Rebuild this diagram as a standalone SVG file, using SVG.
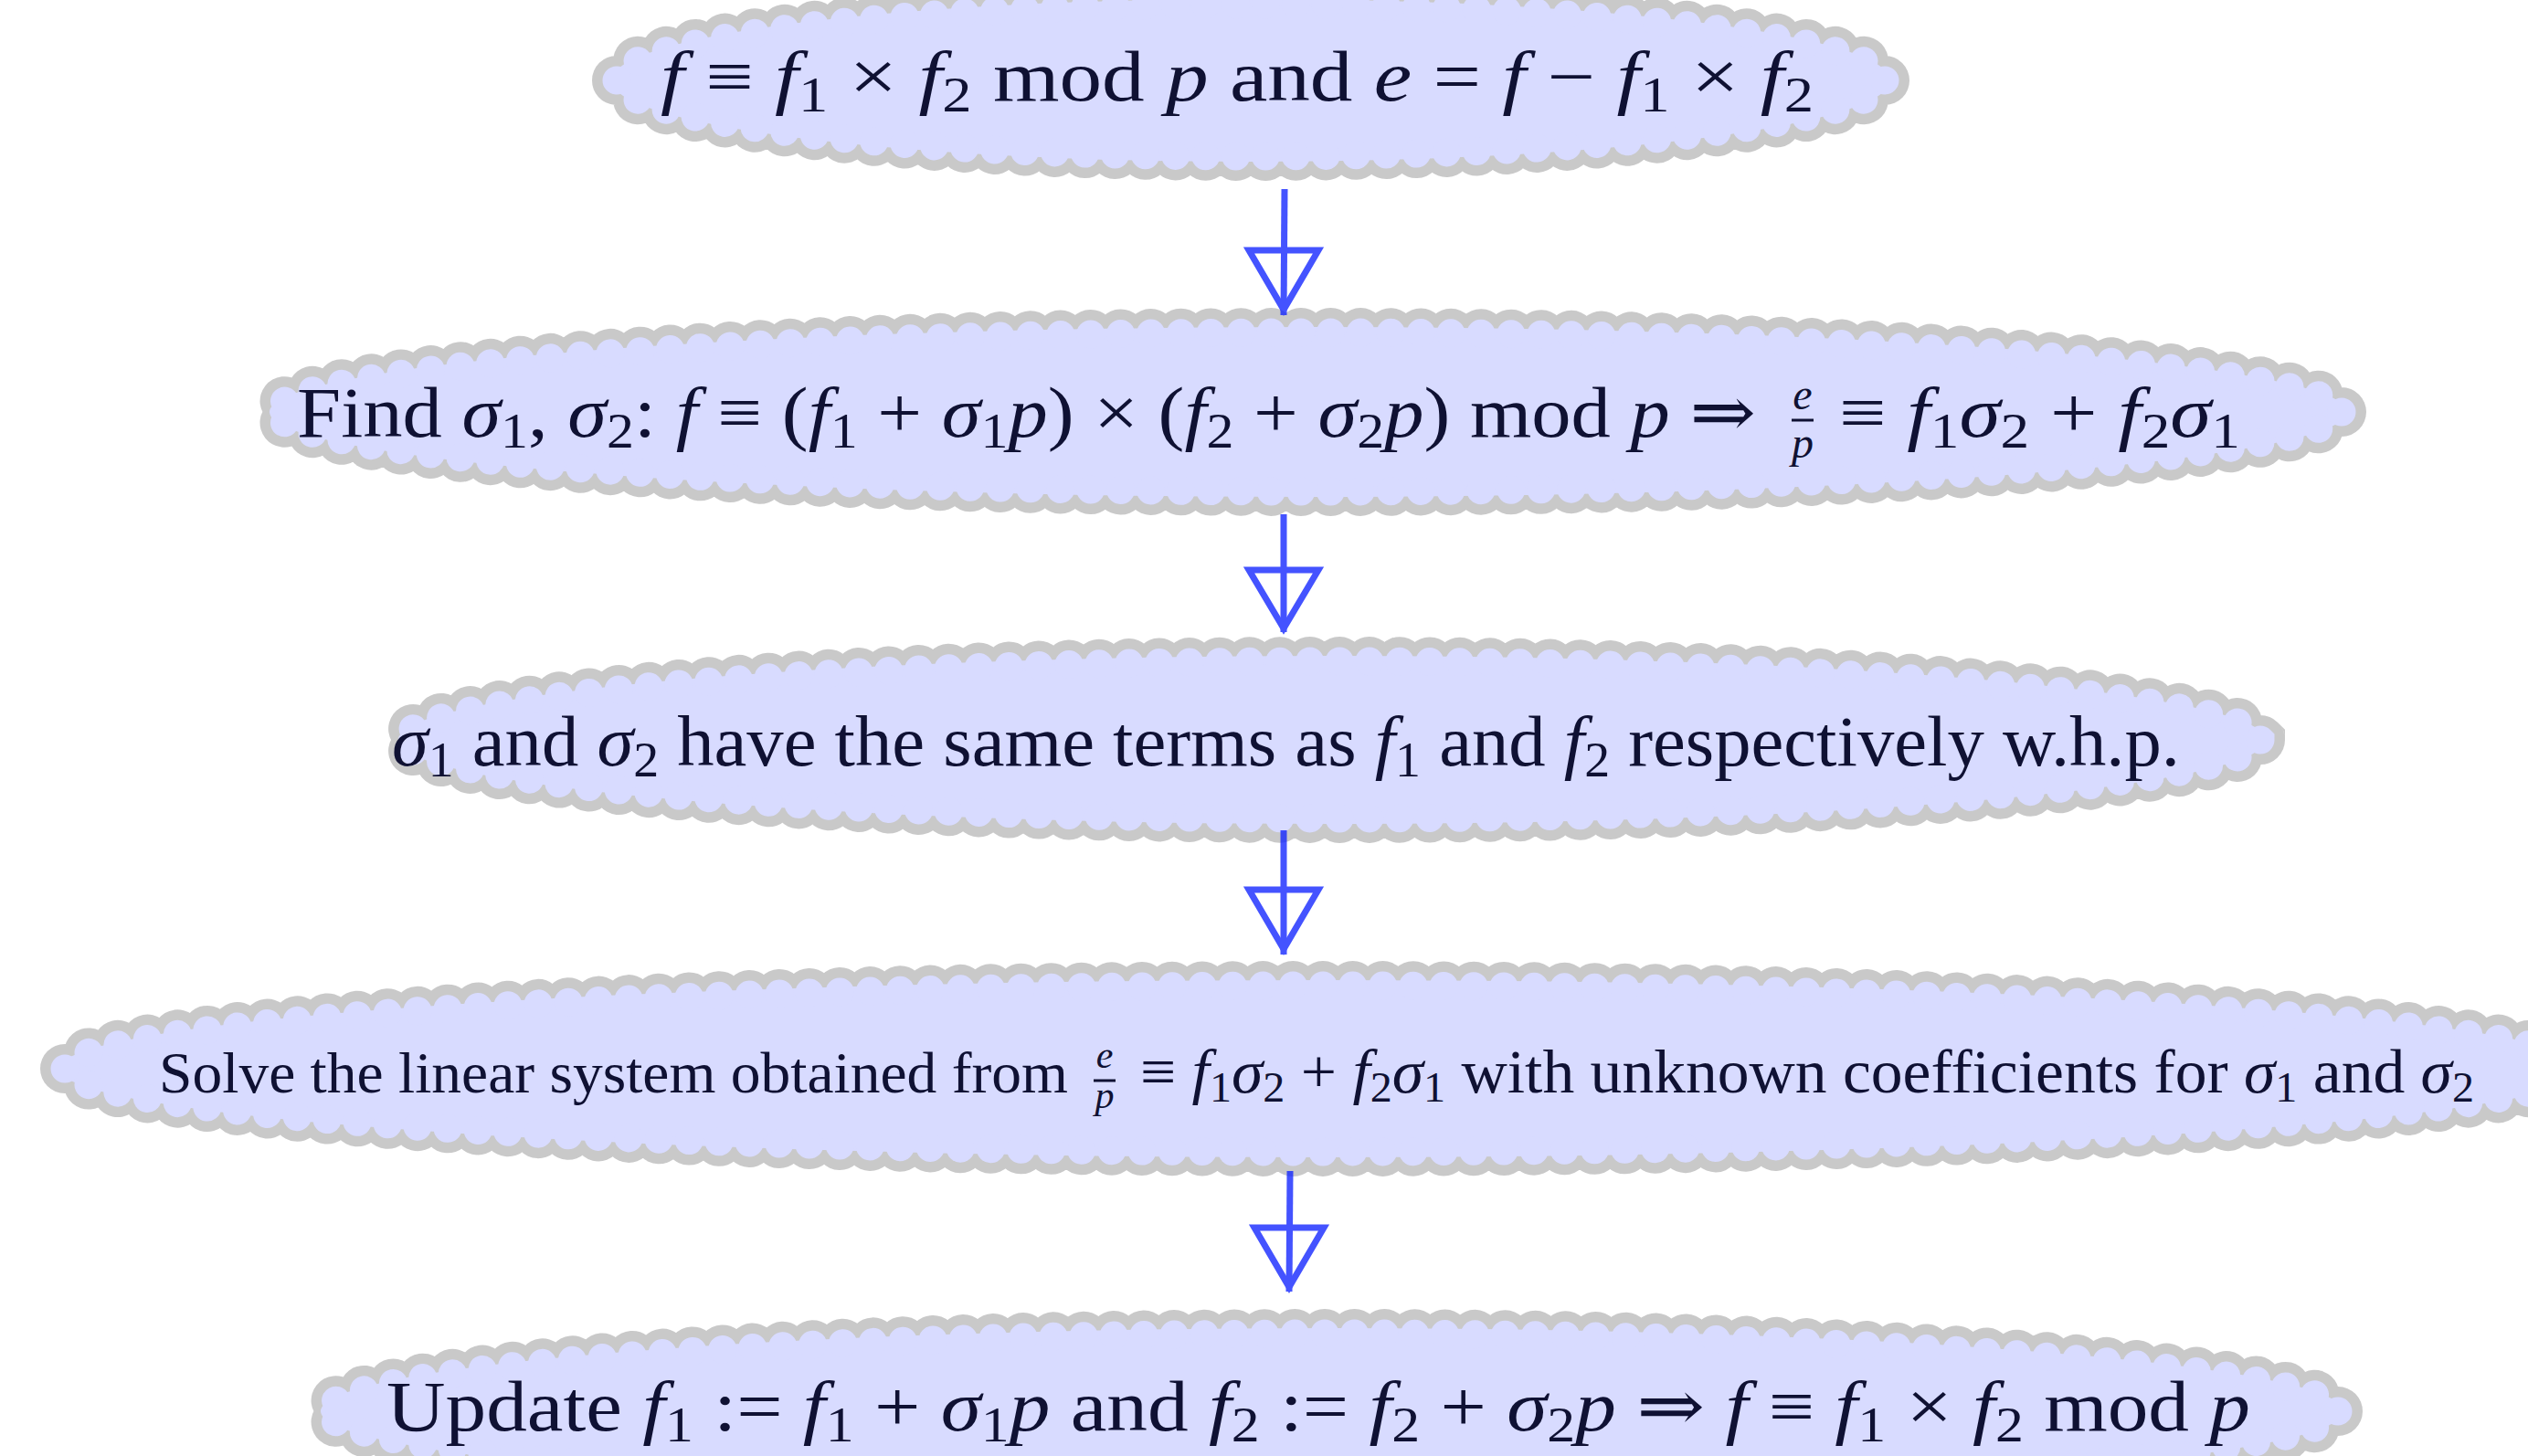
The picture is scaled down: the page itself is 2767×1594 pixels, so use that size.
<svg xmlns="http://www.w3.org/2000/svg" width="2767" height="1594" viewBox="0 0 2767 1594">
<style>
.po{fill:none;stroke:#c9c9c9;stroke-width:54;stroke-linecap:round;stroke-dasharray:0.001 0.999}
.pi{fill:none;stroke:#d8dbff;stroke-width:31;stroke-linecap:round;stroke-dasharray:0.001 0.999}
.core{fill:#d8dbff}
.t{font-family:"Liberation Serif","DejaVu Serif",serif;font-size:78px;fill:#0f1133}
.i{font-style:italic}
.s{font-size:54px;font-style:normal}
.sm{font-size:68px}
.sm .s{font-size:47px}
.fr{font-family:"Liberation Serif","DejaVu Serif",serif;font-style:italic;fill:#0f1133;text-anchor:middle}
.bar{stroke:#0f1133;stroke-width:3}
.conn{fill:none;stroke:#1023ff;stroke-width:7;stroke-linejoin:miter}
</style>
<rect width="2767" height="1594" fill="#ffffff"/>
<g id="node1">
<ellipse class="po" cx="1369" cy="88" rx="694" ry="83" pathLength="86"/>
<ellipse class="core" cx="1369" cy="88" rx="700" ry="89"/>
<ellipse class="pi" cx="1369" cy="88" rx="694" ry="83" pathLength="86"/>
<text class="t" x="723" y="110" textLength="1262" lengthAdjust="spacingAndGlyphs"><tspan class="i">f</tspan> ≡ <tspan class="i">f</tspan><tspan class="s" dy="12">1</tspan><tspan dy="-12"> × </tspan><tspan class="i">f</tspan><tspan class="s" dy="12">2</tspan><tspan dy="-12"> mod </tspan><tspan class="i">p</tspan> and <tspan class="i">e</tspan> = <tspan class="i">f</tspan> − <tspan class="i">f</tspan><tspan class="s" dy="12">1</tspan><tspan dy="-12"> × </tspan><tspan class="i">f</tspan><tspan class="s" dy="12">2</tspan></text>
</g>
<g id="node2">
<ellipse class="po" cx="1432" cy="451" rx="1131" ry="87" pathLength="139"/>
<ellipse class="core" cx="1432" cy="451" rx="1137" ry="93"/>
<ellipse class="pi" cx="1432" cy="451" rx="1131" ry="87" pathLength="139"/>
<text class="t" x="325" y="478" textLength="1597" lengthAdjust="spacingAndGlyphs">Find <tspan class="i">σ</tspan><tspan class="s" dy="12">1</tspan><tspan dy="-12">, </tspan><tspan class="i">σ</tspan><tspan class="s" dy="12">2</tspan><tspan dy="-12">: </tspan><tspan class="i">f</tspan> ≡ (<tspan class="i">f</tspan><tspan class="s" dy="12">1</tspan><tspan dy="-12"> + </tspan><tspan class="i">σ</tspan><tspan class="s" dy="12">1</tspan><tspan class="i" dy="-12">p</tspan>) × (<tspan class="i">f</tspan><tspan class="s" dy="12">2</tspan><tspan dy="-12"> + </tspan><tspan class="i">σ</tspan><tspan class="s" dy="12">2</tspan><tspan class="i" dy="-12">p</tspan>) mod <tspan class="i">p</tspan> ⇒</text>
<text class="fr" x="1973" y="448" font-size="48">e</text>
<line class="bar" x1="1961" y1="460" x2="1985" y2="460"/>
<text class="fr" x="1973" y="501" font-size="48">p</text>
<text class="t" x="2013" y="478" textLength="439" lengthAdjust="spacingAndGlyphs">≡ <tspan class="i">f</tspan><tspan class="s" dy="12">1</tspan><tspan class="i" dy="-12">σ</tspan><tspan class="s" dy="12">2</tspan><tspan dy="-12"> + </tspan><tspan class="i">f</tspan><tspan class="s" dy="12">2</tspan><tspan class="i" dy="-12">σ</tspan><tspan class="s" dy="12">1</tspan></text>
</g>
<g id="node3">
<ellipse class="po" cx="1458" cy="810" rx="1016" ry="86" pathLength="125"/>
<ellipse class="core" cx="1458" cy="810" rx="1022" ry="92"/>
<ellipse class="pi" cx="1458" cy="810" rx="1016" ry="86" pathLength="125"/>
<text class="t" x="429" y="838" textLength="1957" lengthAdjust="spacingAndGlyphs"><tspan class="i">σ</tspan><tspan class="s" dy="12">1</tspan><tspan dy="-12"> and </tspan><tspan class="i">σ</tspan><tspan class="s" dy="12">2</tspan><tspan dy="-12"> have the same terms as </tspan><tspan class="i">f</tspan><tspan class="s" dy="12">1</tspan><tspan dy="-12"> and </tspan><tspan class="i">f</tspan><tspan class="s" dy="12">2</tspan><tspan dy="-12"> respectively w.h.p.</tspan></text>
</g>
<g id="node4">
<ellipse class="po" cx="1448" cy="1170" rx="1377" ry="91" pathLength="168"/>
<ellipse class="core" cx="1448" cy="1170" rx="1383" ry="97"/>
<ellipse class="pi" cx="1448" cy="1170" rx="1377" ry="91" pathLength="168"/>
<text class="t" x="174" y="1196" font-size="64" style="font-size:64px" textLength="995" lengthAdjust="spacingAndGlyphs">Solve the linear system obtained from</text>
<text class="fr" x="1209" y="1169" font-size="42">e</text>
<line class="bar" x1="1197" y1="1183" x2="1221" y2="1183"/>
<text class="fr" x="1209" y="1213" font-size="42">p</text>
<text class="t sm" x="1248" y="1196" textLength="1460" lengthAdjust="spacingAndGlyphs">≡ <tspan class="i">f</tspan><tspan class="s" dy="10">1</tspan><tspan class="i" dy="-10">σ</tspan><tspan class="s" dy="10">2</tspan><tspan dy="-10"> + </tspan><tspan class="i">f</tspan><tspan class="s" dy="10">2</tspan><tspan class="i" dy="-10">σ</tspan><tspan class="s" dy="10">1</tspan><tspan dy="-10"> with unknown coefficients for </tspan><tspan class="i">σ</tspan><tspan class="s" dy="10">1</tspan><tspan dy="-10"> and </tspan><tspan class="i">σ</tspan><tspan class="s" dy="10">2</tspan></text>
</g>
<g id="node5">
<ellipse class="po" cx="1458" cy="1545" rx="1101" ry="85" pathLength="135"/>
<ellipse class="core" cx="1458" cy="1545" rx="1107" ry="91"/>
<ellipse class="pi" cx="1458" cy="1545" rx="1101" ry="85" pathLength="135"/>
<text class="t" x="423" y="1566" textLength="2040" lengthAdjust="spacingAndGlyphs">Update <tspan class="i">f</tspan><tspan class="s" dy="12">1</tspan><tspan dy="-12"> := </tspan><tspan class="i">f</tspan><tspan class="s" dy="12">1</tspan><tspan dy="-12"> + </tspan><tspan class="i">σ</tspan><tspan class="s" dy="12">1</tspan><tspan class="i" dy="-12">p</tspan> and <tspan class="i">f</tspan><tspan class="s" dy="12">2</tspan><tspan dy="-12"> := </tspan><tspan class="i">f</tspan><tspan class="s" dy="12">2</tspan><tspan dy="-12"> + </tspan><tspan class="i">σ</tspan><tspan class="s" dy="12">2</tspan><tspan class="i" dy="-12">p</tspan> ⇒ <tspan class="i">f</tspan> ≡ <tspan class="i">f</tspan><tspan class="s" dy="12">1</tspan><tspan dy="-12"> × </tspan><tspan class="i">f</tspan><tspan class="s" dy="12">2</tspan><tspan dy="-12"> mod </tspan><tspan class="i">p</tspan></text>
</g>
<g id="connectors" opacity="0.78">
<g id="e1"><line class="conn" x1="1406" y1="207" x2="1405" y2="345"/><polygon class="conn" points="1367,274 1443,274 1405,339"/></g>
<g id="e2"><line class="conn" x1="1405" y1="563" x2="1405" y2="692"/><polygon class="conn" points="1367,624 1443,624 1405,688"/></g>
<g id="e3"><line class="conn" x1="1405" y1="909" x2="1405" y2="1045"/><polygon class="conn" points="1367,974 1443,974 1405,1039"/></g>
<g id="e4"><line class="conn" x1="1412" y1="1282" x2="1411" y2="1414"/><polygon class="conn" points="1373,1344 1449,1344 1411,1409"/></g>
</g>
</svg>
